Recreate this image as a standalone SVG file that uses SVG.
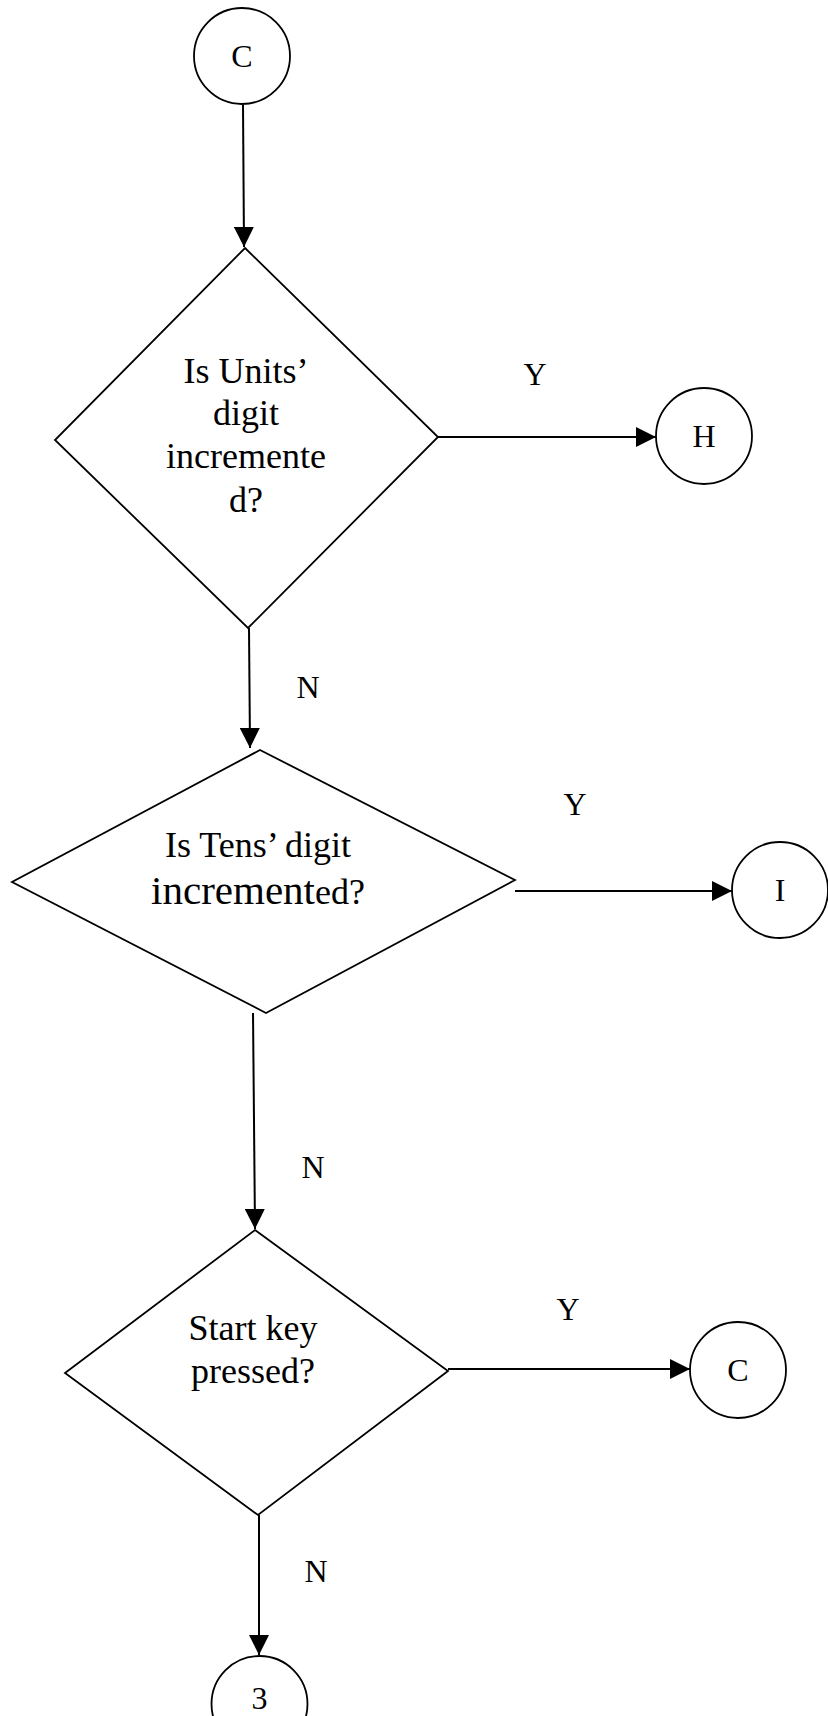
<svg xmlns="http://www.w3.org/2000/svg" width="828" height="1716" viewBox="0 0 828 1716">
<style>
.shape{fill:#fff;stroke:#000;stroke-width:1.8}
.conn{fill:none;stroke:#000;stroke-width:2}
text{font-family:"Liberation Serif","Times New Roman",serif;fill:#000;text-anchor:middle}
.lbl{font-size:32px}
.txt{font-size:36px}
</style>
<defs>
<marker id="arr" markerUnits="userSpaceOnUse" markerWidth="20" markerHeight="20" refX="20" refY="10" orient="auto">
<path d="M0,0 L20,10 L0,20 z" fill="#000"/>
</marker>
</defs>
<rect width="828" height="1716" fill="#fff"/>
<g id="connectors">
<line class="conn" x1="243" y1="105" x2="244" y2="247" marker-end="url(#arr)"/>
<line class="conn" x1="438" y1="437" x2="656" y2="437" marker-end="url(#arr)"/>
<line class="conn" x1="249" y1="628" x2="250" y2="748" marker-end="url(#arr)"/>
<line class="conn" x1="515" y1="891" x2="732" y2="891" marker-end="url(#arr)"/>
<line class="conn" x1="253" y1="1013" x2="255" y2="1229" marker-end="url(#arr)"/>
<line class="conn" x1="448" y1="1369" x2="690" y2="1369" marker-end="url(#arr)"/>
<line class="conn" x1="259" y1="1515" x2="259" y2="1655" marker-end="url(#arr)"/>
<text class="lbl" x="535" y="385">Y</text>
<text class="lbl" x="308" y="698">N</text>
<text class="lbl" x="575" y="815">Y</text>
<text class="lbl" x="313" y="1178">N</text>
<text class="lbl" x="568" y="1320">Y</text>
<text class="lbl" x="316" y="1582">N</text>
</g>
<g id="startC">
<circle class="shape" cx="242" cy="56" r="48"/>
<text class="lbl" x="242" y="67">C</text>
</g>
<g id="decision1">
<polygon class="shape" points="245,248 438,437 248,628 55,440"/>
<text class="txt" x="246" y="383">Is Units’</text>
<text class="txt" x="246" y="425">digit</text>
<text class="txt" x="246" y="468">incremente</text>
<text class="txt" x="246" y="512">d?</text>
</g>
<g id="connH">
<circle class="shape" cx="704" cy="436" r="48"/>
<text class="lbl" x="704" y="447">H</text>
</g>
<g id="decision2">
<polygon class="shape" points="260,750 515,880 266,1013 12,882"/>
<text class="txt" x="258" y="857">Is Tens’ digit</text>
<text class="txt" x="258" y="904"><tspan font-size="41">increment</tspan>ed?</text>
</g>
<g id="connI">
<circle class="shape" cx="780" cy="890" r="48"/>
<text class="lbl" x="780" y="901">I</text>
</g>
<g id="decision3">
<polygon class="shape" points="255,1230 448,1371 258,1515 65,1373"/>
<text class="txt" x="253" y="1340">Start key</text>
<text class="txt" x="253" y="1383">pressed?</text>
</g>
<g id="connC2">
<circle class="shape" cx="738" cy="1370" r="48"/>
<text class="lbl" x="738" y="1381">C</text>
</g>
<g id="conn3">
<circle class="shape" cx="259.5" cy="1704" r="48"/>
<text class="lbl" x="259.5" y="1709">3</text>
</g>
</svg>
